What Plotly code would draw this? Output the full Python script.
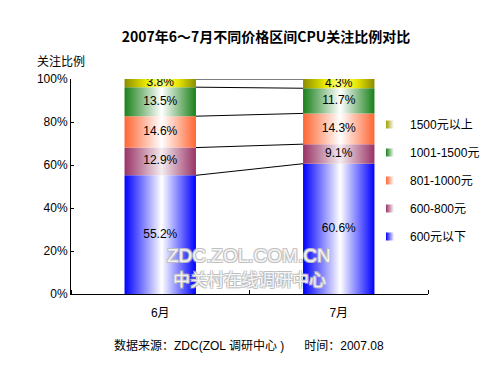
import plotly.graph_objects as go

months = ["6月", "7月"]
bands = ["600元以下", "600-800元", "801-1000元", "1001-1500元", "1500元以上"]
values = {
    "600元以下": [55.2, 60.6],
    "600-800元": [12.9, 9.1],
    "801-1000元": [14.6, 14.3],
    "1001-1500元": [13.5, 11.7],
    "1500元以上": [3.8, 4.3],
}
y_ticks = [0, 20, 40, 60, 80, 100]

scales = {
    "600元以下": [[0, "#0000FF"], [0.52, "#FFFFFF"], [1, "#0000FF"]],
    "600-800元": [[0, "#993366"], [0.52, "#F4ECEF"], [1, "#993366"]],
    "801-1000元": [[0, "#FF6633"], [0.52, "#FFFFFF"], [1, "#FF6633"]],
    "1001-1500元": [[0, "#1A801A"], [0.52, "#FFFFFF"], [1, "#1A801A"]],
    "1500元以上": [[0, "#8C8C00"], [0.3, "#E8E800"], [0.52, "#FFFF80"], [0.75, "#E8E800"], [1, "#8C8C00"]],
}
legend_col = {
    "600元以下": "#0000FF", "600-800元": "#993366", "801-1000元": "#FF6633",
    "1001-1500元": "#1A801A", "1500元以上": "#A0A000",
}

FONT = "Liberation Sans, Arial, Noto Sans CJK SC, sans-serif"
HW = 0.2

fig = go.Figure()
tops = {}
for i, m in enumerate(months):
    base = 0.0
    tops[i] = [0.0]
    for b in bands:
        v = values[b][i]
        y0, y1 = base, base + v
        fig.add_trace(go.Scatter(
            x=[i - HW, i + HW, i + HW, i - HW, i - HW],
            y=[y0, y0, y1, y1, y0],
            mode="lines", fill="toself", line=dict(width=0),
            fillgradient=dict(type="horizontal", colorscale=scales[b]),
            showlegend=False, hoverinfo="skip"))
        fig.add_trace(go.Scatter(
            x=[i], y=[(y0 + y1) / 2], mode="text", text=[f"{v}%"],
            textfont=dict(size=12, color="black", family=FONT),
            showlegend=False, hoverinfo="skip"))
        base = y1
        tops[i].append(base)

# connector lines between bars
for k in range(1, len(bands) + 1):
    fig.add_trace(go.Scatter(
        x=[0 + HW, 1 - HW], y=[tops[0][k], tops[1][k]], mode="lines",
        line=dict(color="black", width=1), showlegend=False, hoverinfo="skip"))

# legend entries (top band first)
for b in reversed(bands):
    fig.add_trace(go.Scatter(
        x=[None], y=[None], mode="markers", name=b, legendgroup=b,
        marker=dict(symbol="square", size=8, color=legend_col[b],
                    gradient=dict(type="horizontal", color="#FFFFFF"))))

fig.update_layout(
    width=500, height=375,
    margin=dict(l=71, r=72, t=79, b=81, autoexpand=False),
    paper_bgcolor="white", plot_bgcolor="white",
    font=dict(family=FONT, size=12, color="black"),
    title=dict(text="<b>2007年6～7月不同价格区间CPU关注比例对比</b>",
               x=266 / 500, xanchor="center", y=1 - 37 / 375, yanchor="middle",
               font=dict(size=14, family="Noto Sans CJK SC, sans-serif")),
    showlegend=True,
    legend=dict(x=(370 - 71) / 357, xanchor="left", y=1 - (110 - 79) / 215, yanchor="top",
                traceorder="grouped", tracegroupgap=9,
                font=dict(size=12), itemwidth=30, bgcolor="rgba(0,0,0,0)"),
    xaxis=dict(range=[-0.5, 1.5], tickvals=[0, 1], ticktext=months,
               showline=True, linecolor="black", linewidth=1, ticks="",
               showgrid=False, zeroline=False, ticklabelstandoff=8,
               minor=dict(tick0=-0.5, dtick=1, ticks="inside", ticklen=4,
                          tickcolor="black", showgrid=False)),
    yaxis=dict(range=[0, 100], tickvals=y_ticks,
               ticktext=[f"{t}%" for t in y_ticks],
               showline=True, linecolor="black", linewidth=1,
               ticks="inside", ticklen=3, tickcolor="black",
               showgrid=False, zeroline=False),
)

fig.add_annotation(text="关注比例", xref="paper", yref="paper",
                   x=(35 - 71) / 357, xanchor="left", y=1 + (79 - 62) / 215,
                   yanchor="middle", showarrow=False, font=dict(size=12))
fig.add_annotation(text="数据来源：ZDC(ZOL 调研中心 )\u00a0\u00a0\u00a0\u00a0\u00a0\u00a0时间：2007.08",
                   xref="paper", yref="paper", x=(249 - 71) / 357, xanchor="center",
                   y=-(345 - 294) / 215, yanchor="middle", showarrow=False,
                   font=dict(size=12))
wm_shadow = "1px 1px 0 #bdbdbd, -1px -1px 0 #bdbdbd, 1px -1px 0 #bdbdbd, -1px 1px 0 #bdbdbd"
fig.add_annotation(text="ZDC.ZOL.COM.CN", xref="paper", yref="paper",
                   x=(249 - 71) / 357, xanchor="center", y=(294 - 255) / 215,
                   yanchor="middle", showarrow=False,
                   font=dict(size=19, color="rgba(255,255,255,0.85)", shadow=wm_shadow))
fig.add_annotation(text="中关村在线调研中心", xref="paper", yref="paper",
                   x=(249 - 71) / 357, xanchor="center", y=(294 - 278) / 215,
                   yanchor="middle", showarrow=False,
                   font=dict(size=17, color="rgba(255,255,255,0.85)", shadow=wm_shadow,
                             family="Noto Sans CJK SC, sans-serif"))

fig.write_html("out.html", config={"displayModeBar": False},
               post_script="document.body.style.margin='0';")
